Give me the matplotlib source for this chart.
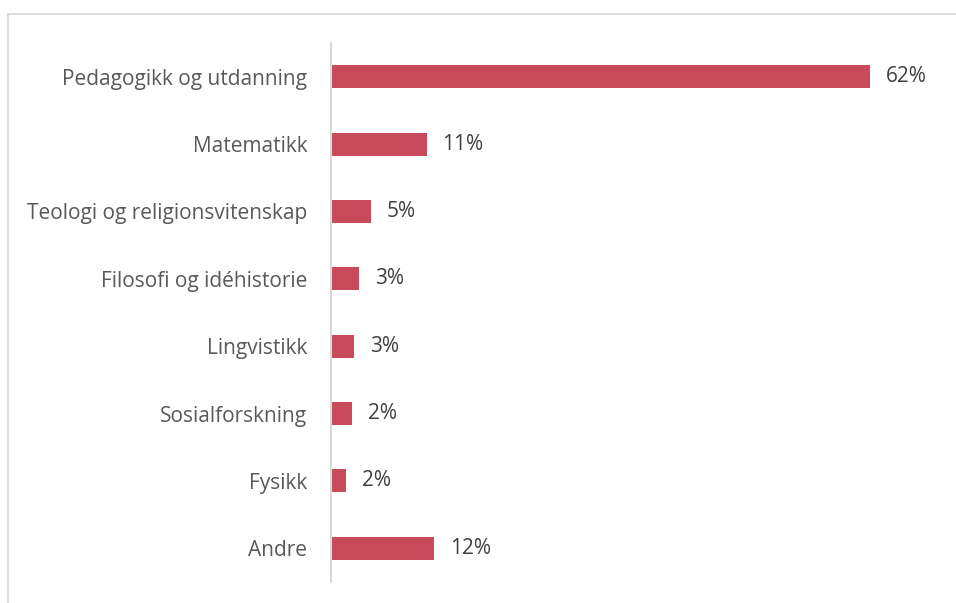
import matplotlib
matplotlib.use("Agg")
import matplotlib.pyplot as plt
from matplotlib.patches import Rectangle

categories = ["Pedagogikk og utdanning", "Matematikk", "Teologi og religionsvitenskap",
              "Filosofi og idéhistorie", "Lingvistikk", "Sosialforskning", "Fysikk", "Andre"]
values = [62, 11, 4.6, 3.2, 2.6, 2.4, 1.7, 11.9]
value_labels = ["62%", "11%", "5%", "3%", "3%", "2%", "2%", "12%"]

plt.rcParams['font.family'] = ['Open Sans', 'DejaVu Sans']

W, H = 956, 603
fig = plt.figure(figsize=(W / 100, H / 100), dpi=100)

# outer frame
fig.patches.append(Rectangle((8 / W, -0.05), 1.2, (H - 14) / H + 0.05, transform=fig.transFigure,
                             fill=False, edgecolor='#D9D9D9', linewidth=1.3))

xmax = 70
px_per = 8.69
ax = fig.add_axes([331 / W, 1 - 582 / H, xmax * px_per / W, 539 / H])
y = list(range(len(categories)))
ax.barh(y, values, height=0.34, color='#C94A5A', left=0)
ax.set_ylim(len(categories) - 0.5, -0.5)
ax.set_xlim(0, xmax)
ax.set_yticks(y)
ax.set_yticklabels(categories, fontsize=15, color='#595959')
ax.tick_params(axis='y', length=0, pad=17)
ax.set_xticks([])
for s in ['top', 'right', 'bottom']:
    ax.spines[s].set_visible(False)
ax.spines['left'].set_color('#D9D9D9')
ax.spines['left'].set_linewidth(1.5)
for yi, v, lab in zip(y, values, value_labels):
    ax.annotate(lab, (v, yi), xytext=(11.5, 0), textcoords='offset points',
                va='center', ha='left', fontsize=15, color='#404040')

fig.savefig("out.png", dpi=100)
